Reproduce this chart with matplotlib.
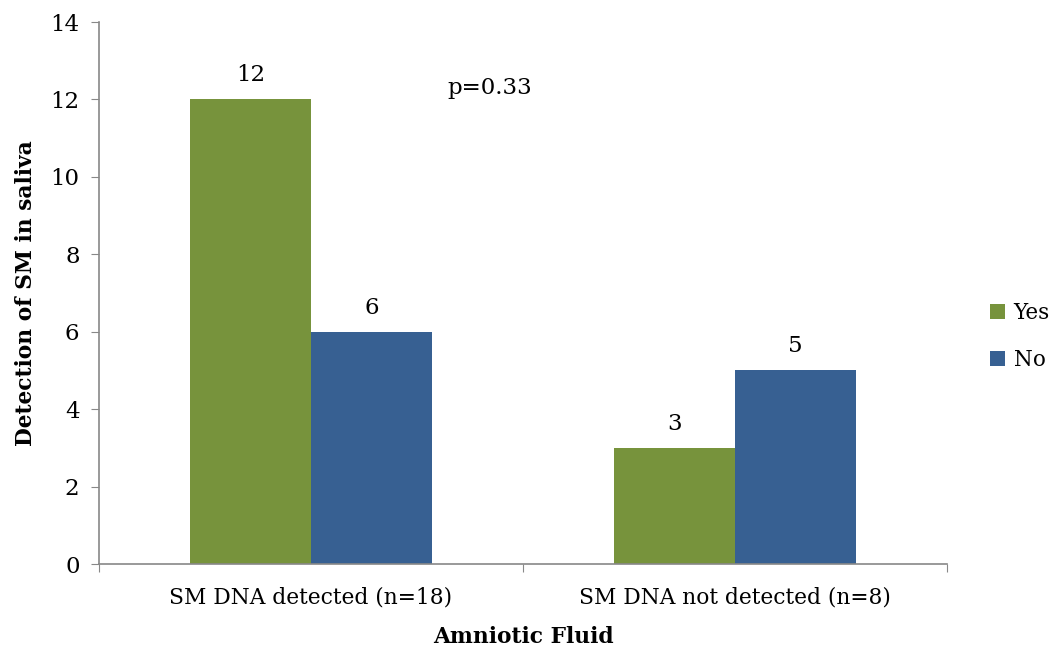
import matplotlib.pyplot as plt
import numpy as np

categories = ["SM DNA detected (n=18)", "SM DNA not detected (n=8)"]
yes_counts = [12, 3]
no_counts = [6, 5]
p_text = "p=0.33"

plt.rcParams["font.family"] = ["DejaVu Serif"]

fig = plt.figure(figsize=(10.56, 6.48), dpi=100)
ax = fig.add_axes([0.09375, 0.1296, 0.8030, 0.8364])

x = np.arange(len(categories))
w = 0.2854
green = "#77933C"
blue = "#376092"

b1 = ax.bar(x - w / 2, yes_counts, w, color=green, label="Yes")
b2 = ax.bar(x + w / 2, no_counts, w, color=blue, label="No")

for bars, vals in [(b1, yes_counts), (b2, no_counts)]:
    for rect, v in zip(bars, vals):
        ax.text(rect.get_x() + rect.get_width() / 2, v + 0.62, str(v),
                ha="center", va="center", fontsize=16.5)

ax.text(0.422, 12.3, p_text, ha="center", va="center", fontsize=16.5)

ax.set_xlim(-0.5, 1.5)
ax.set_ylim(0, 14)
ax.set_yticks(range(0, 15, 2))
ax.set_xticks([-0.5, 0.5, 1.5], minor=False)
ax.set_xticklabels([])
ax.set_xticks(x, minor=True)
ax.set_xticklabels(categories, minor=True)
ax.tick_params(axis="x", which="minor", length=0, pad=16, labelsize=15.7)
ax.tick_params(axis="x", which="major", length=6, color="#888888")
ax.tick_params(axis="y", length=6, color="#888888", labelsize=16.5, pad=8)

for s in ["top", "right"]:
    ax.spines[s].set_visible(False)
for s in ["left", "bottom"]:
    ax.spines[s].set_color("#888888")
    ax.spines[s].set_linewidth(1.2)

ax.set_ylabel("Detection of SM in saliva", fontsize=15.7, fontweight="bold", labelpad=10)
ax.set_xlabel("Amniotic Fluid", fontsize=15.7, fontweight="bold", labelpad=13)

fig.legend(handles=[b1, b2], loc="center left", bbox_to_anchor=(0.9375, 0.481),
           frameon=False, fontsize=15.5, handlelength=0.7, handleheight=0.7,
           labelspacing=1.15, handletextpad=0.4, borderpad=0, borderaxespad=0)

fig.savefig("out.png", dpi=100)
